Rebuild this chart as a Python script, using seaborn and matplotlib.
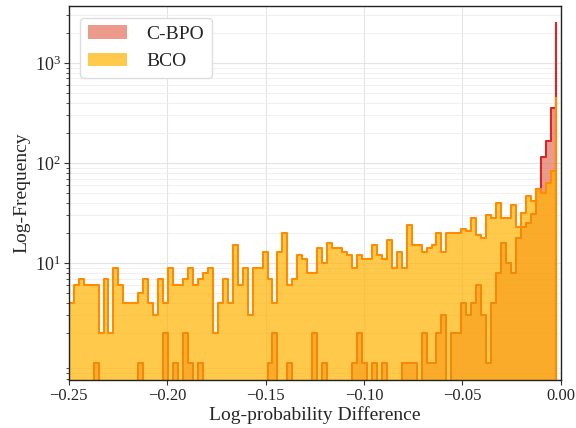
import numpy as np
import pandas as pd
import matplotlib
matplotlib.use("Agg")
import matplotlib.pyplot as plt
import seaborn as sns
from matplotlib.patches import Patch
from matplotlib.colors import to_rgba

# ---------------- data ----------------
n_regular_bins = 98
bin_start = -0.25
bin_stop = -0.0025
spike_right = -0.0022

bco_counts = [4, 6, 7, 6, 6, 6, 2, 7, 2, 9,
              6, 4, 4, 4, 5, 7, 4, 3, 7, 4,
              9, 6, 6, 7, 9, 6, 7, 8, 9, 2,
              4, 7, 4, 15, 6, 9, 3, 9, 9, 13,
              7, 4, 13, 20, 6, 7, 12, 11, 8, 8,
              14, 10, 16, 14, 14, 13, 12, 9, 12, 11,
              11, 15, 12, 11, 17, 9, 13, 9, 24, 15,
              15, 13, 14, 15, 20, 13, 20, 20, 20, 22,
              21, 28, 19, 18, 30, 28, 40, 28, 28, 38,
              23, 32, 47, 42, 55, 50, 63, 83, 450]

cbpo_counts = [0, 0, 0, 0, 0, 1, 0, 0, 0, 0,
               0, 0, 0, 0, 1, 0, 0, 0, 0, 2,
               0, 1, 0, 2, 1, 0, 1, 0, 0, 0,
               0, 0, 0, 0, 0, 0, 0, 0, 0, 0,
               1, 2, 0, 0, 1, 0, 0, 0, 0, 2,
               0, 1, 0, 0, 0, 0, 0, 1, 2, 1,
               0, 1, 0, 1, 0, 0, 0, 1, 1, 1,
               0, 2, 1, 1, 2, 3, 0, 2, 2, 4,
               3, 4, 6, 3, 1, 4, 8, 16, 10, 8,
               18, 23, 25, 31, 55, 116, 166, 352, 2500]

series_names = ["C-BPO", "BCO"]
x_label = "Log-probability Difference"
y_label = "Log-Frequency"
x_ticks = [-0.25, -0.20, -0.15, -0.10, -0.05, 0.00]
x_tick_labels = ["\u22120.25", "\u22120.20", "\u22120.15", "\u22120.10", "\u22120.05", "0.00"]
y_major_ticks = [10, 100, 1000]

# ---------------- build bins ----------------
edges = np.append(np.linspace(bin_start, bin_stop, n_regular_bins + 1), spike_right)
centers = (edges[:-1] + edges[1:]) / 2
edge_list = [float(e) for e in edges]

df = pd.DataFrame({
    "diff": np.concatenate([centers, centers]),
    "count": np.concatenate([cbpo_counts, bco_counts]).astype(float),
    "method": [series_names[0]] * len(centers) + [series_names[1]] * len(centers),
})

# ---------------- style ----------------
sns.set_style("white")
plt.rcParams["font.family"] = "serif"
plt.rcParams["font.serif"] = ["Liberation Serif", "DejaVu Serif"]
plt.rcParams["mathtext.fontset"] = "dejavusans"

cbpo_face = to_rgba("#E4705A", 0.7)
cbpo_edge = "#D62728"
bco_face = to_rgba("#FFB300", 0.7)
bco_edge = "#FF8C00"

fig = plt.figure(figsize=(5.76, 4.28), dpi=100)
ax = fig.add_axes([0.1193, 0.112, 0.8541, 0.874])

sns.histplot(data=df[df.method == series_names[0]], x="diff", weights="count",
             bins=edge_list, element="step", fill=True,
             facecolor=cbpo_face, edgecolor=cbpo_edge, linewidth=1.5, ax=ax)
sns.histplot(data=df[df.method == series_names[1]], x="diff", weights="count",
             bins=edge_list, element="step", fill=True,
             facecolor=bco_face, edgecolor=bco_edge, linewidth=1.5, ax=ax)

ax.set_yscale("log")
ax.set_ylim(0.676, 3715)
ax.set_yticks(y_major_ticks)
ax.set_xlim(-0.25, 0.0)
ax.set_xticks(x_ticks)
ax.set_xticklabels(x_tick_labels)

ax.grid(True, which="major", axis="y", color="#e4e4e4", linewidth=0.8)
ax.grid(True, which="minor", axis="y", color="#eeeeee", linewidth=0.6)
ax.grid(True, which="major", axis="x", color="#e4e4e4", linewidth=0.8)
ax.set_axisbelow(True)

ax.tick_params(axis="both", which="major", labelsize=12, length=3.5, width=0.8,
               pad=2, direction="out", bottom=True, left=True, color="#333333")
ax.tick_params(axis="y", which="major", labelsize=13)
ax.tick_params(axis="y", which="minor", length=2.5, width=0.6, left=True, color="#333333")
for s in ax.spines.values():
    s.set_color("#222222")
    s.set_linewidth(1.0)

ax.set_xlabel(x_label, fontsize=14, labelpad=1.5)
ax.set_ylabel(y_label, fontsize=14, labelpad=3)

handles = [Patch(facecolor=cbpo_face, edgecolor="none", label=series_names[0]),
           Patch(facecolor=bco_face, edgecolor="none", label=series_names[1])]
ax.legend(handles=handles, loc="upper left", fontsize=14, frameon=True,
          framealpha=1.0, edgecolor="#dddddd", borderaxespad=0.6,
          handlelength=2.0, handletextpad=1.0)

fig.savefig("out.png", dpi=100)
